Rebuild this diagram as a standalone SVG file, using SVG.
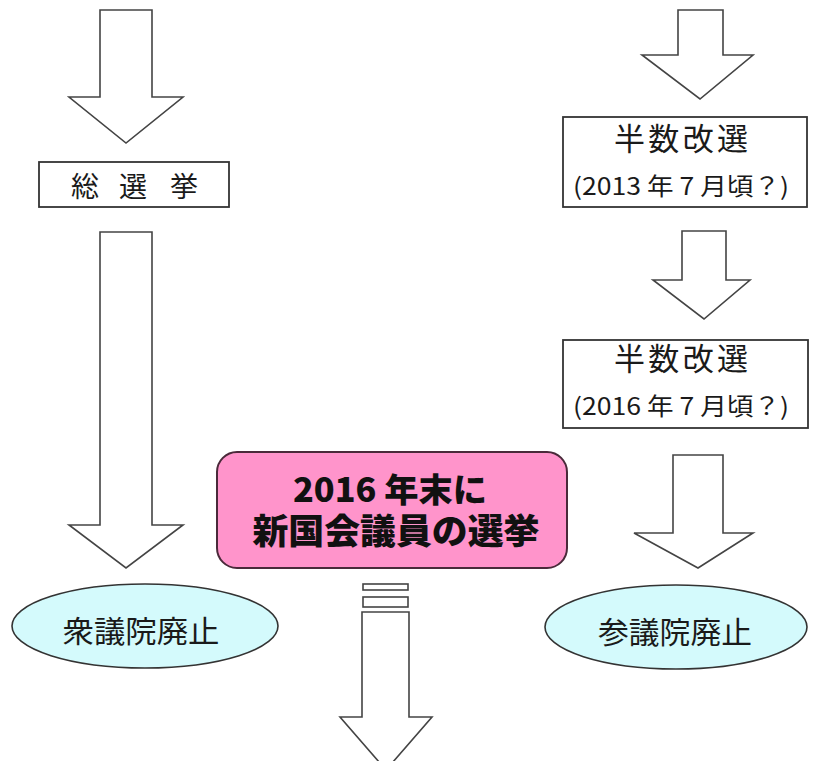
<svg xmlns="http://www.w3.org/2000/svg" width="815" height="761" viewBox="0 0 815 761">
<style>
.arr{fill:#fff;stroke:#444;stroke-width:1.6;stroke-linejoin:miter}
.box{fill:#fff;stroke:#333;stroke-width:1.8}
.ell{fill:#d4fafc;stroke:#333;stroke-width:1.6}
.jp{font-family:"Noto Sans CJK JP","Noto Sans",sans-serif;fill:#1a1a1a;text-anchor:middle}
.big{font-family:"Noto Sans CJK JP",sans-serif;font-weight:900;fill:#111;text-anchor:middle}
</style>
<rect width="815" height="761" fill="#fff"/>
<g id="connectors">
<path class="arr" d="M100,10 H152 V97 H183 L126,143 L69,97 H100 Z"/>
<path class="arr" d="M100,232 H152 V525 H183 L126,568 L69,525 H100 Z"/>
<path class="arr" d="M678,10 H723 V55 H753 L700,99 L642,55 H678 Z"/>
<path class="arr" d="M682,231 H726 V280 H750 L704,319 L653,280 H682 Z"/>
<path class="arr" d="M673,455 H723 V533 H753 L698,568 L634,533 H673 Z"/>
<rect class="arr" x="363" y="584" width="45" height="6"/>
<rect class="arr" x="363" y="597" width="45" height="10"/>
<path class="arr" d="M362,612 H409 V717 H432 L386,770 L340,717 H362 Z"/>
</g>
<g id="n-sousenkyo">
<rect class="box" x="39" y="162" width="190" height="45"/>
<text class="jp" y="197" font-size="28"><tspan x="85">総</tspan><tspan x="133">選</tspan><tspan x="184">挙</tspan></text>
</g>
<g id="n-hansu2013">
<rect class="box" x="563" y="117" width="244" height="90"/>
<text class="jp" x="681" y="150" font-size="31" textLength="134" lengthAdjust="spacing">半数改選</text>
<text class="jp" x="681" y="195" font-size="24" textLength="216" lengthAdjust="spacingAndGlyphs">(2013 年 7 月頃？)</text>
</g>
<g id="n-hansu2016">
<rect class="box" x="563" y="340" width="245" height="88"/>
<text class="jp" x="681" y="370" font-size="31" textLength="134" lengthAdjust="spacing">半数改選</text>
<text class="jp" x="681" y="415" font-size="24" textLength="216" lengthAdjust="spacingAndGlyphs">(2016 年 7 月頃？)</text>
</g>
<g id="n-shin">
<rect x="217" y="452" width="350" height="116" rx="20" ry="20" fill="#ff94cb" stroke="#4a2a3a" stroke-width="2"/>
<text class="big" x="390" y="502" font-size="33" textLength="194" lengthAdjust="spacingAndGlyphs">2016 年末に</text>
<text class="big" x="396" y="544" font-size="35" textLength="287" lengthAdjust="spacingAndGlyphs">新国会議員の選挙</text>
</g>
<g id="n-shugiin">
<ellipse class="ell" cx="145" cy="626" rx="133" ry="42"/>
<text class="jp" x="141" y="642" font-size="30" textLength="157" lengthAdjust="spacingAndGlyphs">衆議院廃止</text>
</g>
<g id="n-sangiin">
<ellipse class="ell" cx="676" cy="627" rx="131" ry="42"/>
<text class="jp" x="675" y="643" font-size="30" textLength="154" lengthAdjust="spacingAndGlyphs">参議院廃止</text>
</g>
</svg>
